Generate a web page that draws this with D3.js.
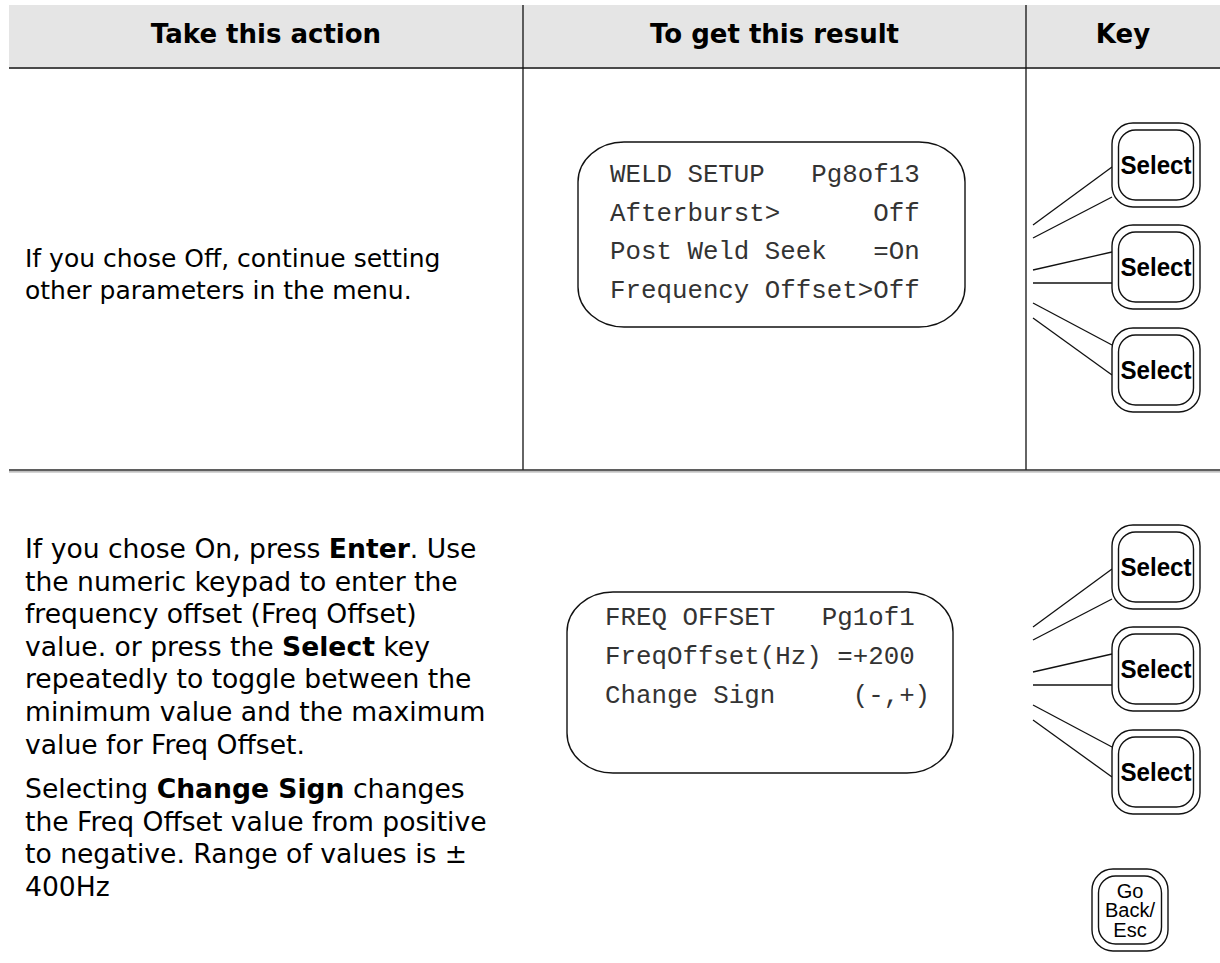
<!DOCTYPE html>
<html><head><meta charset="utf-8">
<script src="https://cdn.jsdelivr.net/npm/d3@7"></script>
<style>
html,body{margin:0;padding:0;background:#fff;}
svg text{white-space:pre;}
</style></head>
<body>
<svg id="chart" width="1220" height="963"></svg>
<script>
// ---- data ----
const headers = ["Take this action", "To get this result", "Key"];
const row1Text = [
  [{t:"If you chose Off, continue setting"}],
  [{t:"other parameters in the menu."}]
];
const row2Para1 = [
  [{t:"If you chose On, press "},{t:"Enter",b:true},{t:". Use"}],
  [{t:"the numeric keypad to enter the"}],
  [{t:"frequency offset (Freq Offset)"}],
  [{t:"value. or press the "},{t:"Select",b:true},{t:" key"}],
  [{t:"repeatedly to toggle between the"}],
  [{t:"minimum value and the maximum"}],
  [{t:"value for Freq Offset."}]
];
const row2Para2 = [
  [{t:"Selecting "},{t:"Change Sign",b:true},{t:" changes"}],
  [{t:"the Freq Offset value from positive"}],
  [{t:"to negative. Range of values is \u00b1"}],
  [{t:"400Hz"}]
];
const lcd1Lines = ["WELD SETUP   Pg8of13", "Afterburst>      Off", "Post Weld Seek   =On", "Frequency Offset>Off"];
const lcd2Lines = ["FREQ OFFSET   Pg1of1", "FreqOffset(Hz) =+200", "Change Sign     (-,+)"];
const keyLabel = "Select";
const escLabel = ["Go", "Back/", "Esc"];

// ---- layout ----
const svg = d3.select("#chart");
const W = 1220;
const colX = [9, 523, 1026, W];
const headerTop = 5, headerBottom = 68, rowLine = 470;

// header band
svg.append("rect").attr("x", colX[0]).attr("y", headerTop)
  .attr("width", W - colX[0]).attr("height", headerBottom - headerTop).attr("fill", "#e5e5e5");
svg.append("line").attr("x1", colX[0]).attr("x2", W).attr("y1", headerBottom).attr("y2", headerBottom)
  .attr("stroke", "#4a4a4a").attr("stroke-width", 2.2);
svg.selectAll("text.hdr").data(headers).join("text").attr("class", "hdr")
  .attr("x", (d, i) => (colX[i] + colX[i + 1]) / 2).attr("y", 43)
  .attr("text-anchor", "middle").attr("font-family", "DejaVu Sans").attr("font-weight", "bold")
  .attr("font-size", 26).attr("fill", "#000").text(d => d);

// dividers
[colX[1], colX[2]].forEach(x => {
  svg.append("line").attr("x1", x).attr("x2", x).attr("y1", headerTop).attr("y2", rowLine)
    .attr("stroke", "#111").attr("stroke-width", 1.3);
});
svg.append("line").attr("x1", colX[0]).attr("x2", W).attr("y1", rowLine).attr("y2", rowLine)
  .attr("stroke", "#2a2a2a").attr("stroke-width", 1.6);
svg.append("line").attr("x1", colX[0]).attr("x2", W).attr("y1", rowLine + 1.8).attr("y2", rowLine + 1.8)
  .attr("stroke", "#aaa").attr("stroke-width", 1.2);

// body text
function para(lines, x, y0, dy, fs) {
  lines.forEach((segs, i) => {
    const t = svg.append("text").attr("x", x).attr("y", y0 + i * dy)
      .attr("font-family", "DejaVu Sans").attr("font-size", fs).attr("fill", "#000");
    segs.forEach(s => t.append("tspan").attr("font-weight", s.b ? "bold" : "normal").text(s.t));
  });
}
para(row1Text, 25, 267, 31.5, 25);
para(row2Para1, 25, 558, 32.6, 26.6);
para(row2Para2, 25, 798, 32.6, 26.6);

// LCD screens
function lcd(x, y, w, h, lines, tx, ty0, dy) {
  svg.append("rect").attr("x", x).attr("y", y).attr("width", w).attr("height", h)
    .attr("rx", 46).attr("ry", 40).attr("fill", "#fff").attr("stroke", "#111").attr("stroke-width", 1.4);
  lines.forEach((l, i) => svg.append("text").attr("x", tx).attr("y", ty0 + i * dy)
    .attr("font-family", "Liberation Mono").attr("font-size", 25.8).attr("fill", "#333").text(l));
}
lcd(578, 142, 387, 185, lcd1Lines, 610, 182, 38.5);
lcd(567, 592, 386, 181, lcd2Lines, 605, 625, 39);

// keys
function key(x, y, w, h, lines, fs, bold, ldy, tl) {
  const g = svg.append("g");
  g.append("rect").attr("x", x).attr("y", y).attr("width", w).attr("height", h)
    .attr("rx", 21).attr("fill", "#fff").attr("stroke", "#111").attr("stroke-width", 1.4);
  g.append("rect").attr("x", x + 6.5).attr("y", y + 7).attr("width", w - 13).attr("height", h - 14)
    .attr("rx", 17).attr("fill", "none").attr("stroke", "#111").attr("stroke-width", 1.4);
  const cy = y + h / 2;
  const t = g.append("text").attr("text-anchor", "middle").attr("font-family", "Liberation Sans")
    .attr("font-weight", bold ? "bold" : "normal").attr("font-size", fs).attr("fill", "#000");
  lines.forEach((l, i) => {
    const s = t.append("tspan").attr("x", x + w / 2)
      .attr("y", cy + fs * 0.36 + (i - (lines.length - 1) / 2) * ldy).text(l);
    if (tl) s.attr("textLength", tl).attr("lengthAdjust", "spacingAndGlyphs");
  });
}
const keyX = 1112, keyW = 88, keyH = 84, fanX = 1033;
function keyGroup(top) {
  const tops = [top, top + 102, top + 205];
  const fan = [
    [102, tops[0] - top + 44], [115, tops[0] - top + 74],
    [147, tops[1] - top + 27], [160, tops[1] - top + 58],
    [180, tops[2] - top + 17], [195, tops[2] - top + 47]
  ];
  fan.forEach(([a, b]) => svg.append("line").attr("x1", fanX).attr("y1", top + a)
    .attr("x2", keyX).attr("y2", top + b).attr("stroke", "#111").attr("stroke-width", 1.3));
  tops.forEach(t => key(keyX, t, keyW, keyH, [keyLabel], 26, true, 0, 71));
}
keyGroup(123);
keyGroup(525);
key(1092, 869, 76, 82, escLabel, 20, false, 19.5);
</script>
</body></html>
